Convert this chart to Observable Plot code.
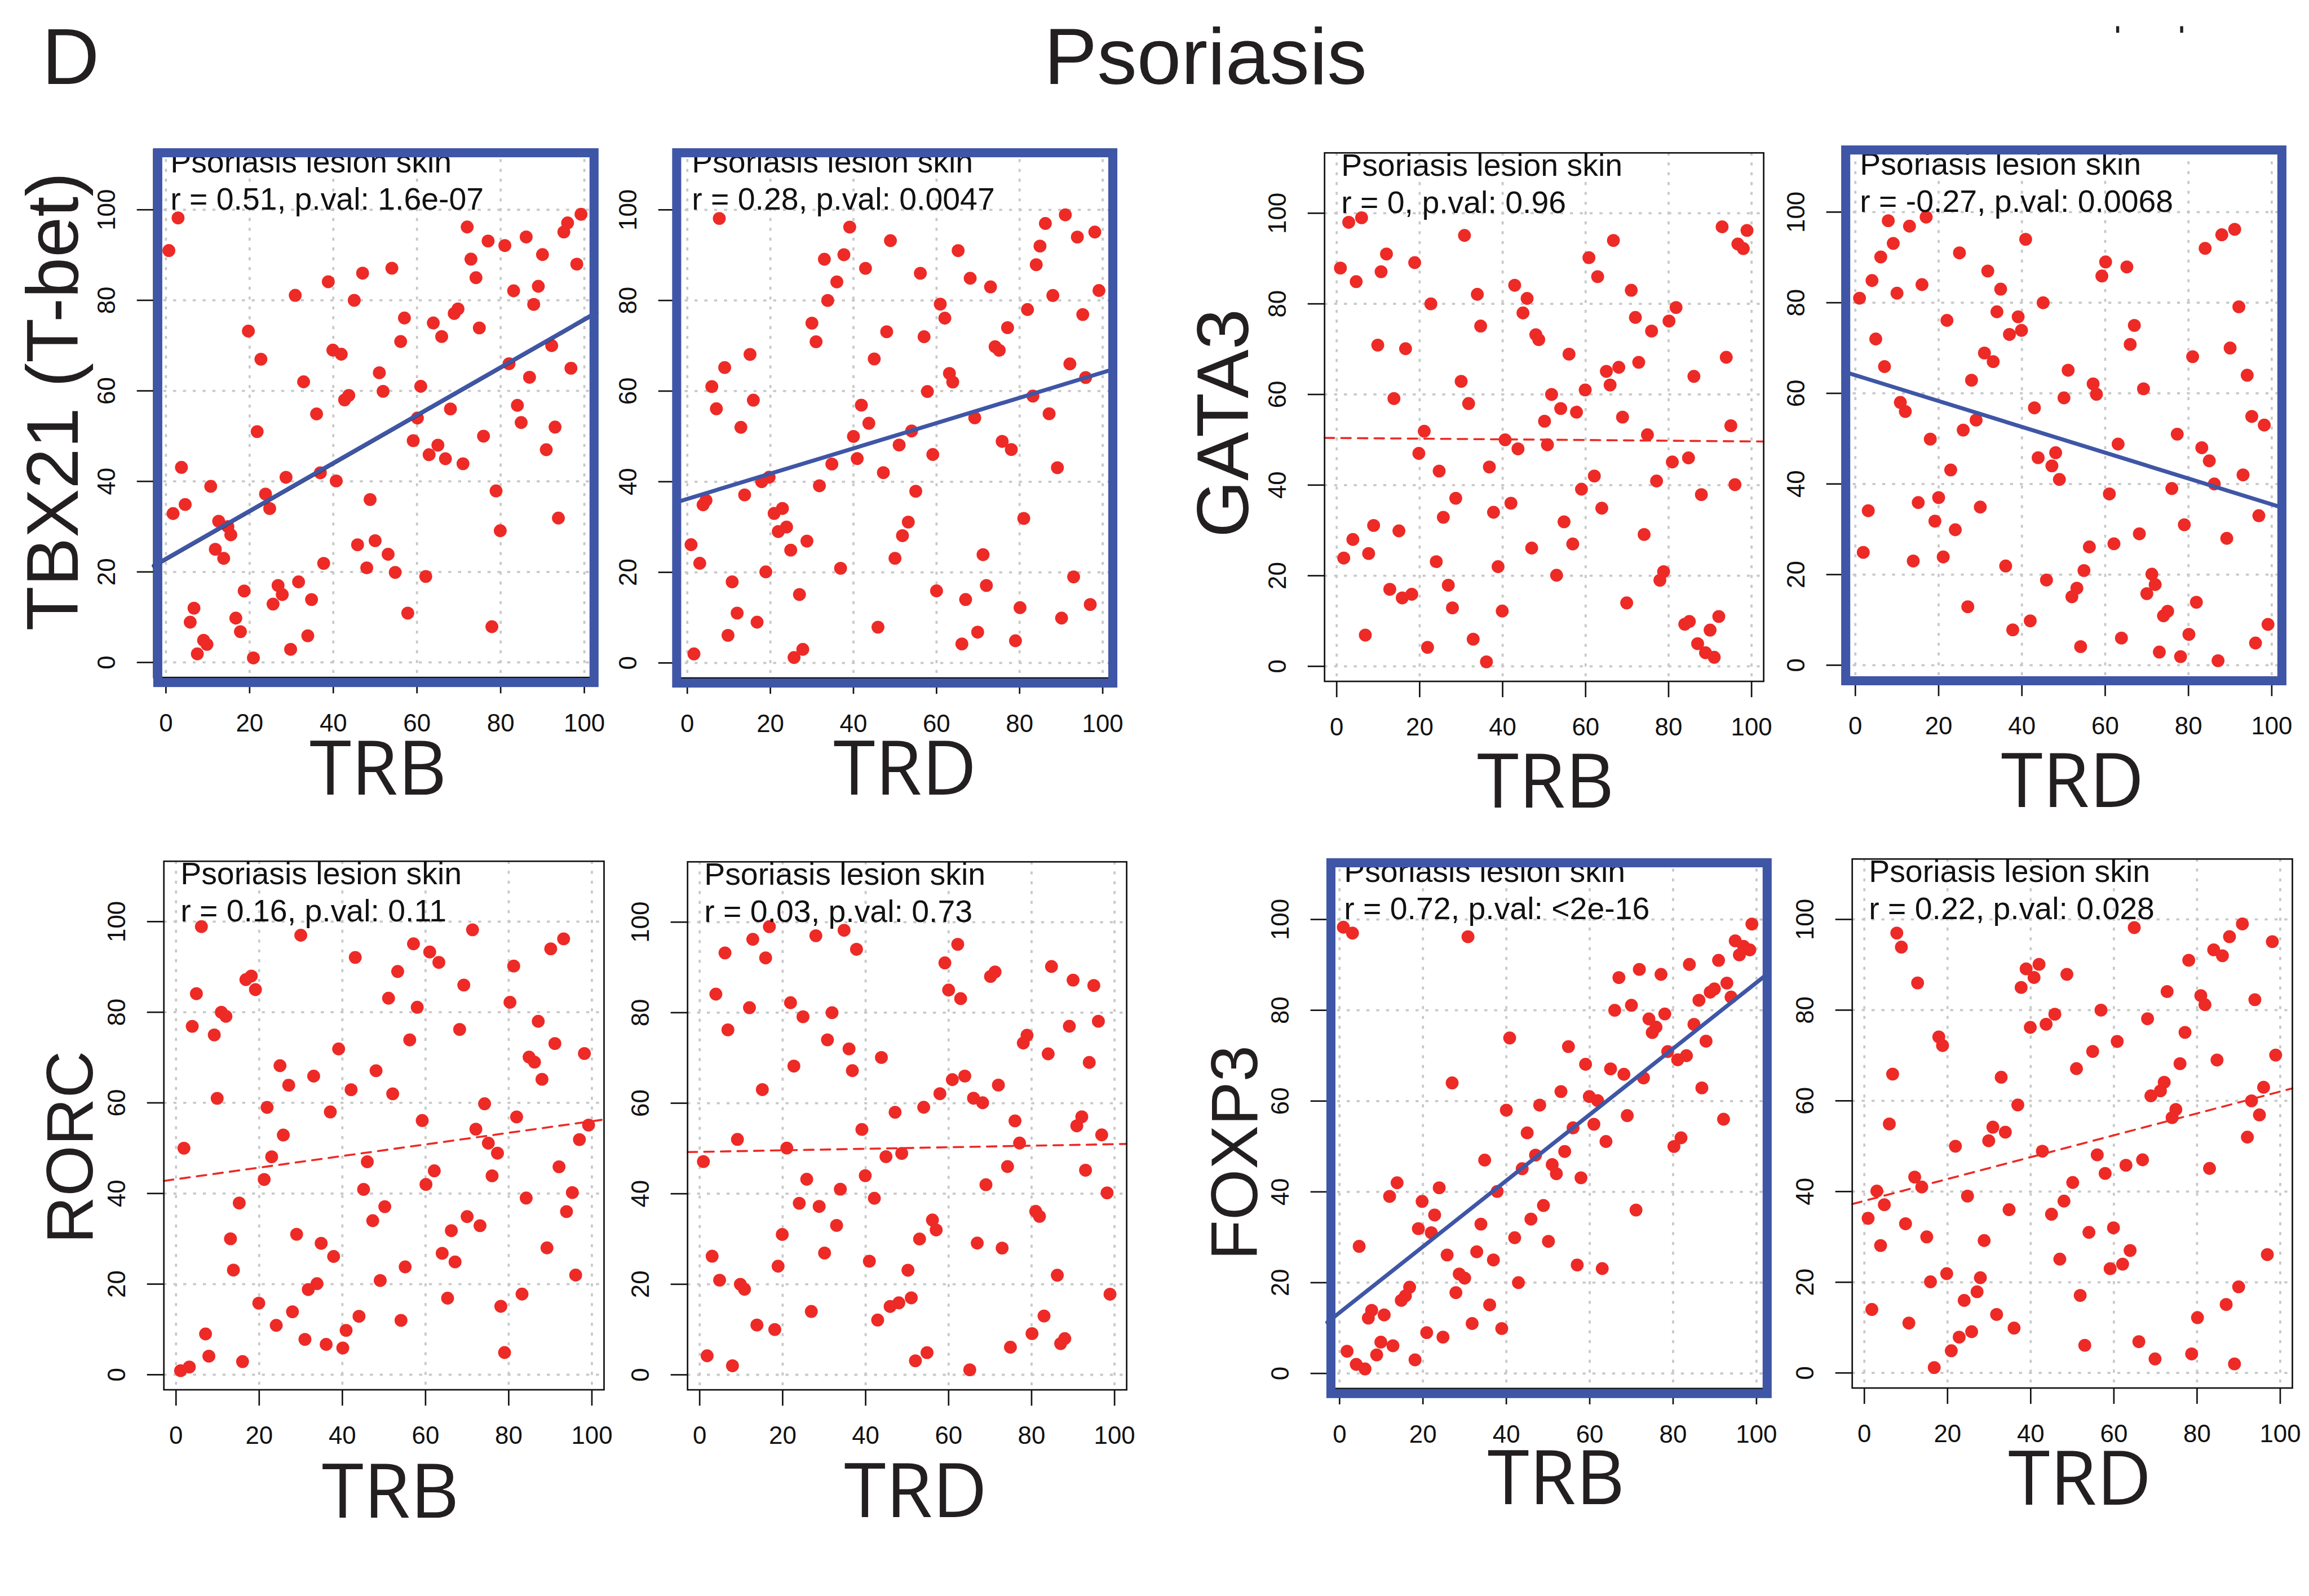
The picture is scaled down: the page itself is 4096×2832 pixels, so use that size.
<!DOCTYPE html>
<html>
<head>
<meta charset="utf-8">
<script src="https://cdn.jsdelivr.net/npm/d3@7"></script>
<script src="https://cdn.jsdelivr.net/npm/@observablehq/plot@0.6"></script>
<style>
  html, body { margin: 0; padding: 0; background: #fff; }
  #fig { position: relative; width: 4096px; height: 2832px; overflow: hidden; background: #fff; }
  #fig svg { position: absolute; }
</style>
</head>
<body>
<div id="fig"></div>
<script>
// ---------------------------------------------------------------
// Data: rank-normalised expression (0-100) of transcription factors
// against TRB / TRD clonotype signal in psoriasis lesion skin.
// Each array holds [TRB or TRD, gene] pairs for one panel.
// ---------------------------------------------------------------
const tbx21Trb = [[0.7,91],[2.9,98.2],[1.7,32.9],[3.7,43.1],[4.6,34.9],[6.7,12],[5.8,8.9],[7.5,1.9],[9,4.9],[9.8,4],[10.7,38.9],[11.8,25],[12.6,31.2],[13.8,23],[14.8,30],[15.5,28.2],[16.7,9.8],[17.8,6.8],[18.7,15.8],[19.7,73.2],[20.9,1],[21.8,51],[22.7,67],[23.8,37.2],[24.8,34],[25.6,12.9],[26.8,17],[27.8,15],[28.7,40.9],[29.8,2.9],[30.9,81.1],[31.7,17.8],[32.9,62],[33.9,5.9],[34.8,13.9],[36,54.9],[36.9,41.9],[37.7,21.9],[38.8,84.1],[39.9,69],[40.7,40.1],[41.9,68.1],[42.7,58],[43.7,59],[45,80],[45.8,26],[47,86],[48,20.9],[48.8,36],[50,26.9],[51,64],[51.9,59.9],[53.1,23.9],[54,87.1],[54.8,19.9],[56.1,70.9],[57,76.1],[57.8,10.9],[59.1,49],[60.1,54],[60.9,61],[62.1,19],[62.9,45.9],[63.9,75],[65,48],[65.9,72],[66.8,45],[68,56],[68.9,77.1],[69.8,78.1],[71,43.9],[72,96.2],[72.9,89.1],[74.1,85],[74.9,73.9],[75.9,50],[77,93.1],[77.9,7.9],[78.9,37.9],[79.9,29.1],[81,92.1],[82,66],[83.1,82.1],[84,56.8],[84.9,53],[86.1,94],[86.9,63],[87.9,79.1],[89,83.1],[90,90.1],[90.9,47],[92.2,70],[93,52],[93.8,31.9],[95.1,95.1],[96,97.1],[96.8,65],[98.2,88],[99.2,99]];

const tbx21Trd = [[7.7,98.1],[39.1,96.2],[91,98.9],[86.2,97],[98.1,95.1],[48.9,93.2],[93.9,94],[84.9,92],[65.2,91],[37.7,90.1],[33,89.1],[42.9,87.1],[84,87.9],[56.1,86],[36,84.1],[68.1,84.9],[73,83],[99.1,82.2],[33.8,80],[88,81.1],[60.9,79.2],[81.9,78],[62,76.1],[95.2,76.9],[30,75],[77.1,74],[48,73.1],[57,72],[31,70.9],[74.1,69.8],[75.1,69],[15.1,68.1],[45,67.1],[9,65.2],[92.1,66],[63.1,63.9],[63.9,62],[95.9,63],[5.9,61],[57.8,59.9],[15.9,58],[7,56.1],[83.2,58.9],[41.9,56.9],[87.1,55],[69.2,54.1],[43.7,52.9],[12.9,52],[54,51.2],[40,50],[75.8,48.9],[78,47.1],[51,48.1],[59.1,46],[40.9,45.1],[34.8,43.9],[89.1,43.1],[47.2,42],[19.7,41],[17.9,40],[31.8,39.1],[13.8,37.1],[55,37.9],[4.5,35.9],[3.8,34.9],[22.9,34.1],[20.9,33],[23.9,30],[21.9,29],[53.2,31.1],[51.8,28.1],[81,31.9],[0.9,26.1],[28.8,26.9],[24.9,24.9],[3,22],[50,23.1],[71.2,23.9],[36.9,20.9],[18.9,20.1],[10.8,17.9],[93,19],[27,15.1],[60,15.9],[72,17.1],[12,11],[16.8,9],[67,14],[80.1,12.2],[97,12.9],[90.1,9.9],[9.8,6.1],[45.9,7.9],[69.9,6.8],[66.1,4.2],[79,4.9],[27.8,3],[25.7,1.2],[1.6,2]];

const gata3Trb = [[2.9,98],[6,99],[30.8,95.1],[92.9,97],[98.9,96.2],[66.7,94],[12,91],[96.7,93.2],[98,92.2],[0.9,87.9],[18.8,89.1],[10.7,87.1],[4.7,84.9],[60.8,90.2],[62.9,86],[42.9,84.1],[33.9,82.1],[45.9,81.2],[22.7,80],[71,83],[44.9,78],[81.8,79.2],[80.1,76.2],[72,77],[75.9,74],[34.7,75.1],[48,73.2],[48.7,72.1],[9.9,70.9],[16.6,70.1],[56,68.9],[93.9,68.2],[72.8,67.1],[65,65.1],[68,66],[86.1,64],[65.9,62.1],[30,62.9],[59.9,61],[13.8,59.1],[51.8,60],[31.8,58],[54,56.9],[57.8,56.1],[50.1,54.1],[68.9,55],[21.1,51.9],[95,53.1],[74.9,51.1],[40.6,50],[19.8,47],[43.7,48],[50.8,48.9],[80.9,45.1],[84.8,46],[24.7,43.1],[36.8,44],[62.1,42],[77.1,40.9],[96,40.1],[59,39.1],[87.9,37.9],[28.7,37.1],[42,36],[37.8,34],[25.7,32.9],[63.9,34.9],[54.8,31.9],[8.9,31.1],[15,29.9],[3.9,28],[56.9,27],[74.1,29.1],[7.7,24.9],[1.7,23.9],[47,26.1],[24,23.1],[38.9,22],[78.8,20.9],[77.9,19],[53,20.1],[26.9,17.9],[12.8,17],[15.8,15.1],[18.1,15.9],[27.9,12.9],[39.9,12.2],[69.9,14],[83.9,9.3],[85,9.9],[92.1,11],[90,8],[6.9,6.9],[87,5],[88.9,3],[91,2],[21.9,4.2],[32.9,6],[36.1,1]];

const gata3Trd = [[7.9,98.1],[13,96.9],[17,98.9],[40.9,94],[9.1,93.1],[88,95],[91.1,96.2],[84,92],[6.1,90.1],[25,91],[60.1,89],[65.2,87.9],[59.2,85.9],[31.8,87],[4,84.9],[16,84],[10,82.1],[34.9,83],[1,81],[45.1,80],[34,78],[39.1,76.9],[92.1,79.1],[22,76.1],[39.9,73.9],[37,73],[67,75],[66,70.8],[4.9,72],[90,70],[81,68.1],[31,68.9],[33.1,67],[7,65.9],[94.1,64],[51.1,65.1],[27.9,62.9],[57.1,62.1],[57.9,59.8],[69.2,61],[50.1,59],[10.8,58],[12,56],[43,56.8],[29,54.1],[25.9,51.9],[95.2,54.9],[98.2,53],[18,49.9],[77.3,51],[63.1,48.8],[48.1,46.9],[43.9,45.8],[83.2,48],[47.2,44],[85,45.1],[22.9,43.1],[49,41],[93.1,42],[86.2,40],[76,39],[61,37.8],[20,37],[15.1,35.9],[3.1,34.1],[30,34.9],[19.1,31.8],[96.9,33],[24,29.9],[79,31],[68.2,29],[89.2,28],[62.1,26.8],[56.2,26.1],[1.9,24.9],[13.9,23],[21.1,23.9],[36.1,21.9],[54.9,20.9],[71.2,20.1],[72,17.8],[45.9,18.8],[53.2,17],[52,15.1],[70,15.8],[81.9,13.9],[27,12.9],[75,11.9],[74,10.9],[42,9.8],[37.8,7.8],[99.1,9],[63.9,6],[80.1,6.8],[54.1,4.1],[96.1,4.9],[73,2.9],[78.1,1.9],[87.1,1]];

const rorcTrb = [[6.1,98.9],[30,97],[71.3,98.2],[93.2,96.2],[90.1,94],[57.1,95.1],[61,93.3],[63.2,91],[43.1,92.1],[81.2,90.2],[53.3,89],[16.8,87.2],[18.1,88],[19.1,85],[69.2,86],[4.9,84.1],[51.1,83.1],[80.3,82.2],[58,81.1],[10.9,80],[12,79.1],[3.9,76.9],[87.1,78],[68.2,76.2],[9.2,75],[56.2,73.9],[91.1,73.1],[39.1,71.9],[84.9,70.1],[86.2,69],[98.2,70.9],[25,68.2],[33.1,65.9],[27.1,63.9],[48.1,67.1],[42.1,62.9],[52.1,62],[88,65.2],[9.9,61],[21.9,59],[37.1,58],[74.2,59.8],[59.2,56.1],[81.9,56.9],[72.1,54.2],[99.2,55.1],[1.9,50],[25.8,52.9],[75.1,51.1],[77.3,48.9],[97,51.9],[23,48.1],[46,47],[62.1,45],[92.1,45.9],[21.2,43.1],[76,43.9],[45.1,40.9],[60.1,42],[95.3,40.2],[84.2,39],[15.2,37.9],[50.2,37.1],[93.9,36],[47.3,34],[70,34.9],[73.1,32.9],[66.2,31.8],[13.1,30],[29,31],[34.9,29],[37.9,26.1],[64,26.8],[67.1,24.9],[89.2,28],[13.8,23.1],[55.1,23.8],[96.1,22],[49.1,20.8],[33.9,20.1],[31.8,18.8],[19.9,15.8],[65.3,16.9],[83.2,17.8],[28,13.9],[44,12.9],[78.1,15.1],[24.1,10.9],[54.1,12],[40.9,9.8],[7.1,9],[31,7.8],[36.1,6.7],[40.1,5.9],[7.9,4.1],[16,2.9],[79,4.9],[1.1,0.9],[3.2,1.7]];

const rorcTrd = [[16.8,99],[34.8,98.2],[28,97],[12.8,96.2],[62.2,95.1],[6.1,93.2],[37.8,94],[15.9,92.1],[59.1,91],[84.8,90.2],[70.1,88],[71.2,89],[90,87.2],[95,86],[60,85],[3.9,84.1],[62.9,83.1],[21.9,82.2],[12,81.1],[31.9,80],[24.9,79.1],[96.1,78.1],[89.1,77],[6.8,76.2],[30.8,74],[78.9,75],[78,73.3],[36,72],[84,70.9],[43.8,70.1],[93.9,69],[22.7,68.2],[36.8,67.2],[60.9,65.2],[63.9,66],[72,64],[15.1,63],[57.9,62.1],[66,61.1],[68.2,60.1],[54,59.1],[47.1,58],[76,56.1],[92.1,57],[90.9,55],[39.1,54.2],[9.1,52],[96.9,53],[21,50.1],[77.1,51.2],[48.7,48.9],[44.9,48.2],[0.9,47.1],[74.2,46],[93,45.2],[39.9,44],[25.8,43.2],[33.9,41],[69,42],[42.1,39],[98.2,40.2],[24,37.9],[28.8,37.2],[81,36.1],[81.9,35],[33,33],[56.1,34.2],[57,32],[19.9,31],[53,30],[66.9,29.1],[72.9,28],[30.1,26.9],[3,26.2],[40.9,25.1],[18.9,24],[50.2,23.1],[86.2,22],[4.8,20.9],[9.8,20],[10.8,18.9],[98.9,17.8],[51,17],[48,15.9],[45.9,15.1],[26.9,14],[83,13],[42.9,12.1],[13.8,11],[18.1,10],[88,8],[87,6.9],[80.1,9.1],[74.9,6.1],[1.8,4.2],[54.8,4.9],[52,3.1],[7.9,2],[65.1,1.1]];

const foxp3Trb = [[98.9,99],[0.9,98.3],[3.1,97],[30.8,96.2],[94.9,95.3],[96.9,94.1],[98.4,93.3],[95.9,92.2],[90.9,91],[83.9,90.1],[71.9,89],[77.1,87.9],[67,87.2],[92.9,86],[89.9,84.7],[88.9,84],[93.9,82.9],[86.2,82.2],[70,81.1],[66,80],[78,79.2],[74.2,78.1],[75.9,76.3],[75,75.1],[85,76.9],[40.8,73.9],[87.9,73.2],[54.9,72],[78.7,70.9],[83.2,70],[81.1,69.1],[59,68.1],[65,67.1],[68.2,65.9],[72.9,65.1],[27,64],[86.9,62.9],[53.1,62.1],[59.9,61],[61.9,60.1],[48,59.1],[40,58],[69,56.8],[92.1,56],[61,54.9],[56,54.1],[45,53],[81.9,51.9],[80.2,50],[63.9,51.1],[54,48.9],[47,48.1],[34.8,47],[51,46],[52,44],[43.8,45.1],[57.9,43.1],[37.8,40.1],[13.8,42],[23.9,40.9],[12,39],[19.8,37.9],[48.9,37],[71.1,36],[22.8,34.9],[45.9,34],[33.9,32.9],[18.9,31.9],[22,31],[42,29.9],[50.1,29.1],[4.7,28],[25.8,26.1],[32.9,26.8],[36.9,25],[57,23.9],[63,23.1],[28.7,21.9],[30,21],[42.9,20],[16.8,19],[15.8,17.1],[14.8,16.1],[27.9,17.8],[36,15.1],[7.7,13.9],[6.9,12.2],[10.7,12.9],[31.8,11],[38.9,9.9],[20.9,9],[24.8,8],[9.9,6.9],[12.8,6.1],[1.8,4.9],[8.9,4.1],[18.1,3],[4,2],[6.1,1]];

const foxp3Trd = [[90.9,99],[7.8,97],[64.9,98.2],[87.8,96.2],[98.1,95.1],[8.9,93.9],[84,93.3],[86.1,92],[78,91],[42,90.1],[38.9,89.1],[40.8,87.2],[48.7,87.9],[12.8,86],[37.7,85],[72.8,84.1],[80.9,83.2],[81.9,81.2],[93.9,82.3],[56.9,80],[45.8,79.1],[43.7,76.9],[39.9,76.2],[68.1,78.1],[77.1,75.1],[60.8,73.1],[17.9,74.1],[18.8,72.2],[98.9,70.1],[54.9,70.9],[84.8,69],[75.9,68.2],[51,67.1],[6.8,65.9],[32.9,65.2],[72.1,64.1],[71.2,62.2],[68.9,61.1],[96,63],[36.9,59.1],[93.1,60],[74.9,58.1],[74,56.3],[95,56.9],[6,54.9],[30.9,54.2],[33.9,53.1],[29.9,51.2],[92.1,52],[21.9,50],[42.8,48.9],[56,48.1],[66.9,47],[62.9,45.8],[83,45.1],[12.1,43.2],[57.9,44],[3,40.1],[13.8,41],[50.1,42],[4.8,37.1],[24.8,39],[48,37.9],[0.9,34.1],[34.8,36],[45,35],[9.9,32.9],[54,31],[59.9,32],[15,30],[28.8,29.2],[3.9,28.1],[63.9,27],[96.9,26.1],[47,25.1],[62.1,24],[59.1,23],[19.8,21.9],[15.9,20.1],[27.9,21],[27.1,17.9],[90,19],[51.9,17.1],[24,16],[87,15.1],[1.8,14],[31.8,12.9],[10.7,11],[36,9.9],[80.1,12.2],[25.8,9.1],[22.8,7.9],[53,6.1],[66,6.9],[20.9,4.9],[78.7,4.2],[69.9,3.1],[89,2],[16.8,1.2]];

// Panel content, in reading order (row by row, left to right)
const panelPoints = [tbx21Trb, tbx21Trd, gata3Trb, gata3Trd, rorcTrb, rorcTrd, foxp3Trb, foxp3Trd];
const geneLabels = ["TBX21 (T-bet)", "GATA3", "RORC", "FOXP3"];
const chainLabels = ["TRB", "TRD", "TRB", "TRD", "TRB", "TRD", "TRB", "TRD"];
const tissueLabel = "Psoriasis lesion skin";
const rValues = ["0.51", "0.28", "0", "-0.27", "0.16", "0.03", "0.72", "0.22"];
const pValues = ["1.6e-07", "0.0047", "0.96", "0.0068", "0.11", "0.73", "<2e-16", "0.028"];
const fitIntercepts = [22.9, 36.2, 50.4, 64.0, 43.15, 49.25, 13.4, 37.95];
const fitSlopes = [0.529, 0.279, -0.0076, -0.285, 0.128, 0.017, 0.727, 0.241];
const significant = [true, true, false, true, false, false, true, false];
const axisTicks = [0, 20, 40, 60, 80, 100];
const figureTitle = "Psoriasis";
const panelLetter = "D";

// ---------------------------------------------------------------
// Layout (pixels of the full-size figure, scaled by S on output)
// ---------------------------------------------------------------
const S = 0.894;
const X_DOMAIN = [-2.92, 102.92];
const Y_DOMAIN = [-3.32, 113.32];
const RED = "#ED2A26";
const BLUE = "#3F56A6";
const GRID = "#C8C8C8";
const SANS = "'Liberation Sans', Arial, Helvetica, sans-serif";
const HUMANIST = "'Open Sans', 'Noto Sans', sans-serif";

// plot-region boxes: left, top, width, height
const boxes = [
  [304.1, 296.6, 878.7, 1048], [1339.3, 296.4, 872.4, 1049],
  [2627.3, 303.4, 871.3, 1049], [3656.3, 300.6, 874.5, 1049],
  [324.3, 1709.4, 873.4, 1049], [1363.3, 1709.6, 871.3, 1048],
  [2633.2, 1704.2, 875.6, 1051], [3674.3, 1704.3, 873.4, 1050]
];
// highlight frame insets (left, top, right, bottom) relative to the plot region
const highlightInsets = [
  [8, 6.5, 5, -10], [3, 6.5, 4, -10], null, [5, -3.5, 4, -1],
  null, null, [7, 7.5, 3, -10], null
];
// chain label: horizontal shift from region centre, baseline below region bottom
const chainLabelPlacement = [
  [6, 232], [20, 232], [3, 250], [18, 252],
  [13, 254], [17, 253], [16, 230], [15, 232]
];
// gene labels: centre x, centre y, font size
const geneLabelPlacement = [[102, 797, 145], [2424, 840, 145], [137, 2277, 130], [2448, 2288, 130]];

const fig = document.getElementById("fig");
const M = {l: 300, r: 70, t: 40, b: 330};

function drawPanel(i) {
  const [bx, by, bw, bh] = boxes[i];
  const pts = panelPoints[i].map(([x, y]) => ({x, y}));
  const fit = X_DOMAIN.map(x => ({x, y: fitIntercepts[i] + fitSlopes[i] * x}));
  const note = `${tissueLabel}\nr = ${rValues[i]}, p.val: ${pValues[i]}`;
  const [ldx, lbase] = chainLabelPlacement[i];

  const marks = [
    Plot.gridX(axisTicks, {stroke: GRID, strokeOpacity: 1, strokeWidth: 4.2 * S, strokeDasharray: `${6 * S},${13.5 * S}`}),
    Plot.gridY(axisTicks, {stroke: GRID, strokeOpacity: 1, strokeWidth: 4.2 * S, strokeDasharray: `${6 * S},${13.5 * S}`}),
    Plot.dot(pts, {x: "x", y: "y", r: 12.8 * S, fill: RED, stroke: "none"}),
    Plot.text([note], {
      text: d => d, frameAnchor: "top-left", textAnchor: "start", lineAnchor: "bottom",
      dx: 33 * S, dy: 119 * S, lineHeight: 1.19, fontSize: 62 * S, fontFamily: SANS, fill: "#111"
    })
  ];
  if (significant[i]) {
    if (i === 0) marks.push(Plot.line(fit, {x: "x", y: "y", stroke: "#1a1a1a", strokeWidth: 3 * S, dy: 3.5 * S}));
    marks.push(Plot.line(fit, {x: "x", y: "y", stroke: BLUE, strokeWidth: 8 * S}));
  } else {
    marks.push(Plot.line(fit, {x: "x", y: "y", stroke: RED, strokeWidth: 4 * S, strokeDasharray: `${19 * S},${14 * S}`}));
  }
  marks.push(
    Plot.frame({stroke: "#111", strokeWidth: 3 * S}),
    // outward tick marks below and left of the plot region
    Plot.ruleX(axisTicks, {x: d => d, insetTop: bh * S, insetBottom: -32 * S, stroke: "#111", strokeWidth: 3 * S}),
    Plot.ruleY(axisTicks, {y: d => d, insetRight: bw * S, insetLeft: -33 * S, stroke: "#111", strokeWidth: 3 * S}),
    Plot.text(axisTicks, {x: d => d, text: d => String(d), frameAnchor: "bottom", textAnchor: "middle", lineAnchor: "middle", dy: 92 * S, fontSize: 49 * S, fontFamily: SANS, fill: "#111"}),
    Plot.text(axisTicks, {y: d => d, text: d => String(d), frameAnchor: "left", textAnchor: "middle", lineAnchor: "middle", rotate: -90, dx: -92 * S, fontSize: 49 * S, fontFamily: SANS, fill: "#111"}),
    Plot.text([chainLabels[i]], {
      text: d => d, frameAnchor: "bottom", textAnchor: "middle", lineAnchor: "bottom",
      dx: ldx * S, dy: lbase * S, fontSize: 150 * S, fontFamily: HUMANIST, fill: "#231F20", ariaLabel: "chain-label"
    })
  );
  const ins = highlightInsets[i];
  if (ins) {
    marks.push(Plot.frame({
      stroke: BLUE, strokeWidth: 18 * S,
      insetLeft: ins[0] * S, insetTop: ins[1] * S, insetRight: ins[2] * S, insetBottom: ins[3] * S
    }));
  }

  const svg = Plot.plot({
    width: (bw + M.l + M.r) * S,
    height: (bh + M.t + M.b) * S,
    marginLeft: M.l * S, marginRight: M.r * S, marginTop: M.t * S, marginBottom: M.b * S,
    x: {domain: X_DOMAIN, axis: null},
    y: {domain: Y_DOMAIN, axis: null},
    style: "background: transparent; overflow: visible; max-width: none;",
    marks
  });
  svg.style.position = "absolute";
  svg.style.left = ((bx - M.l) * S) + "px";
  svg.style.top = ((by - M.t) * S) + "px";
  // the chain labels use a narrower set width
  d3.select(svg).selectAll('g[aria-label="chain-label"] text').each(function () {
    const t = this.getAttribute("transform") || "";
    this.setAttribute("transform", t + " scale(0.91,1)");
  });
  fig.appendChild(svg);
}

panelPoints.forEach((_, i) => drawPanel(i));

// Figure-level titles and row (gene) labels
const over = d3.select(fig).append("svg")
  .attr("width", 4096).attr("height", 2832)
  .style("left", "0px").style("top", "0px").style("overflow", "visible");
over.append("text").text(panelLetter)
  .attr("x", 83 * S).attr("y", 167 * S)
  .attr("font-family", SANS).attr("font-size", 158 * S).attr("fill", "#231F20");
over.append("text").text(figureTitle)
  .attr("x", 2392 * S).attr("y", 167 * S).attr("text-anchor", "middle")
  .attr("font-family", SANS).attr("font-size", 158 * S).attr("fill", "#231F20");
[[4199, 52], [4326, 52]].forEach(([x, y]) => {
  over.append("rect").attr("x", x * S).attr("y", y * S).attr("width", 6 * S).attr("height", 13 * S).attr("fill", "#231F20");
});
geneLabels.forEach((g, k) => {
  const [cx, cy, fs] = geneLabelPlacement[k];
  over.append("text").text(g)
    .attr("transform", `translate(${cx * S},${cy * S}) rotate(-90)`)
    .attr("text-anchor", "middle").attr("dy", "0.36em")
    .attr("font-family", SANS).attr("font-size", fs * S).attr("fill", "#231F20");
});
</script>
</body>
</html>
